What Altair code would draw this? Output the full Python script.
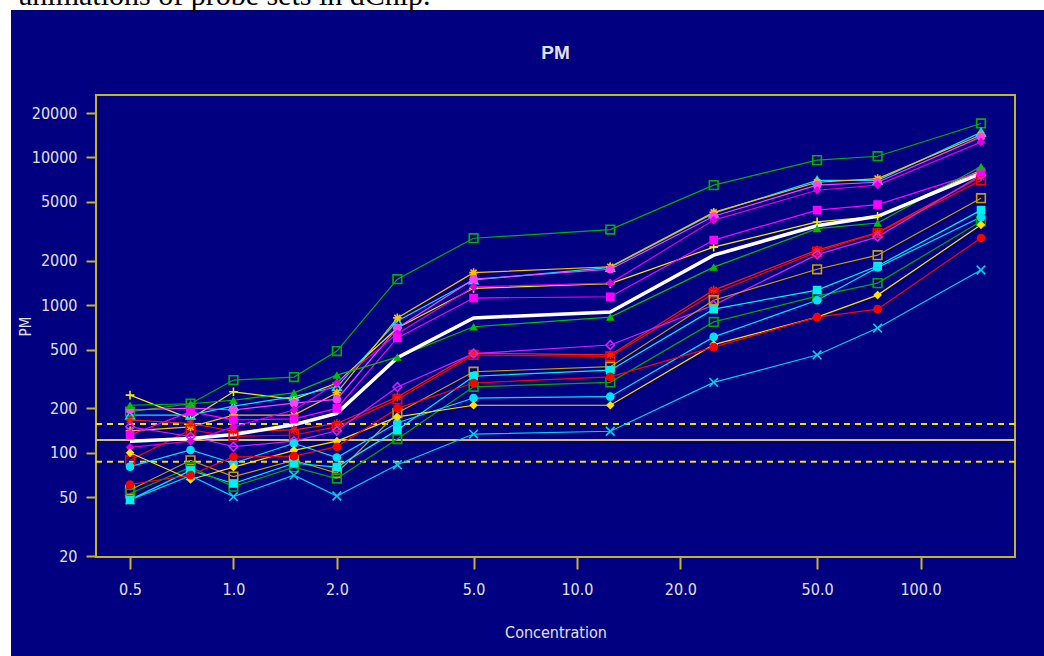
import altair as alt
import pandas as pd

# ---------------- data ----------------
conc = [0.5, 0.75, 1.0, 1.5, 2.0, 3.0, 5.0, 12.5, 25.0, 50.0, 75.0, 150.0]

probe_names = ["p01", "p02", "p03", "p04", "p05", "p06", "p07", "p08", "p09",
               "p10", "p11", "p12", "p13", "p14", "p15", "p16", "p17", "p18"]

p01 = [190, 215, 311, 326, 489, 1500, 2840, 3250, 6500, 9600, 10200, 17000]
p02 = [246, 170, 259, 230, 297, 700, 1300, 1400, 2470, 3660, 4000, 8200]
p03 = [180, 180, 207, 240, 280, 780, 1480, 1800, 4200, 7000, 7000, 14800]
p04 = [141, 150, 180, 180, 255, 820, 1660, 1820, 4250, 6800, 7200, 14200]
p05 = [195, 201, 195, 217, 230, 700, 1500, 1750, 4000, 6500, 6800, 13800]
p06 = [109, 120, 150, 195, 297, 640, 1330, 1410, 3770, 6000, 6500, 12700]
p07 = [132, 190, 167, 170, 200, 600, 1117, 1140, 2760, 4400, 4800, 8000]
p08 = [210, 215, 227, 255, 336, 445, 714, 830, 1810, 3300, 3600, 8700]
p09 = [167, 158, 140, 143, 158, 239, 473, 460, 1265, 2360, 3100, 7400]
p10 = [89, 143, 129, 132, 150, 230, 460, 450, 1200, 2300, 3080, 7000]
p11 = [150, 129, 110, 120, 141, 279, 470, 537, 1000, 2200, 2900, 7600]
p12 = [56, 89, 69, 89, 73, 186, 354, 383, 1080, 1750, 2180, 5300]
p13 = [48, 76, 62, 85, 80, 143, 330, 363, 940, 1265, 1840, 4400]
p14 = [53, 80, 59, 80, 67, 124, 280, 300, 770, 1150, 1410, 3700]
p15 = [80.6, 104.5, 85, 116, 93, 160, 235, 240, 610, 1080, 1800, 3950]
p16 = [100, 66, 80, 104, 120, 175, 210, 210, 540, 830, 1170, 3500]
p17 = [61, 70.6, 94, 95, 110, 200, 297, 327, 520, 830, 940, 2850]
p18 = [48, 70, 50.5, 70.6, 51, 83, 134, 140, 300, 460, 700, 1730]

probe_values = [p01, p02, p03, p04, p05, p06, p07, p08, p09,
                p10, p11, p12, p13, p14, p15, p16, p17, p18]

model_fit = [120, 125, 133, 155, 185, 440, 820, 900, 2180, 3450, 4000, 7800]

PLUS = "M-1,0L1,0M0,-1L0,1"
STAR = "M-1,0L1,0M0,-1L0,1M-0.7,-0.7L0.7,0.7M-0.7,0.7L0.7,-0.7"
XMARK = "M-1,-1L1,1M-1,1L1,-1"

probe_colors = ["#00b000", "#f0f000", "#00e8f8", "#ffc000", "#ff40ff", "#e000e0",
                "#ff00ff", "#00c000", "#ff2000", "#ff0000", "#d020ff", "#c8a000",
                "#00f0f0", "#00a800", "#00e0ff", "#ffe000", "#ff0000", "#00d0e8"]
probe_shapes = ["square", PLUS, "triangle-up", STAR, "circle", "diamond",
                "square", "triangle-up", STAR, "square", "diamond", "square",
                "square", "square", "circle", "diamond", "circle", XMARK]
probe_filled = [False, False, False, False, True, True,
                True, True, False, False, False, False,
                True, False, True, True, True, False]

ref_solid = [122]
ref_dashed = [157, 87]

x_ticks = [0.5, 1, 2, 5, 10, 20, 50, 100]
y_ticks = [20, 50, 100, 200, 500, 1000, 2000, 5000, 10000, 20000]

page_note = "animations of probe sets in dChip."

# ---------------- tables ----------------
rows = []
for name, vals, fil in zip(probe_names, probe_values, probe_filled):
    for c, v in zip(conc, vals):
        rows.append({"probe": name, "conc": c, "value": v, "filled": fil})
df = pd.DataFrame(rows)
df_fit = pd.DataFrame({"conc": conc, "value": model_fit})
df_solid = pd.DataFrame({"value": ref_solid})
df_dashed = pd.DataFrame({"value": ref_dashed})
one = pd.DataFrame({"a": [0]})

W, H = 919, 462
FRAME = "#c4b42c"
TXT = "#e2e2ec"
FONT = "Liberation Sans Narrow, DejaVu Sans Condensed, Liberation Sans"

x_enc = alt.X("conc:Q",
              scale=alt.Scale(type="log", domain=[0.398, 188.4], nice=False),
              axis=alt.Axis(values=x_ticks, format=".1f", domain=False, grid=False,
                            tickColor=FRAME, tickSize=12, tickWidth=2,
                            labelColor=TXT, labelFontSize=16, labelFont=FONT,
                            labelPadding=12, labelFlush=False,
                            title="Concentration", titleColor=TXT, titleFont=FONT,
                            titleFontSize=16, titleFontWeight="normal",
                            titleX=W / 2, titleY=75, titleBaseline="middle",
                            titleAlign="center", titleAnchor="middle"))
y_enc = alt.Y("value:Q",
              scale=alt.Scale(type="log", domain=[19.7, 26500], nice=False),
              axis=alt.Axis(values=y_ticks, format="d", domain=False, grid=False,
                            tickColor=FRAME, tickSize=10, tickWidth=2,
                            labelColor=TXT, labelFontSize=16, labelFont=FONT,
                            labelPadding=9, labelFlush=False,
                            title="PM", titleColor=TXT, titleFont=FONT,
                            titleFontSize=15, titleFontWeight="normal",
                            titleAngle=-90, titleX=-71, titleY=H / 2,
                            titleBaseline="middle", titleAlign="center"))

color_scale = alt.Scale(domain=probe_names, range=probe_colors)
shape_scale = alt.Scale(domain=probe_names, range=probe_shapes)

rule_solid = alt.Chart(df_solid).mark_rule(color="#d0c070", strokeWidth=2).encode(y=y_enc)
rule_dash = alt.Chart(df_dashed).mark_rule(color="#f0e000", strokeWidth=2,
                                           strokeDash=[6, 5]).encode(y=y_enc)

lines = alt.Chart(df).mark_line(strokeWidth=1.2).encode(
    x=x_enc, y=y_enc,
    color=alt.Color("probe:N", scale=color_scale, legend=None),
    detail="probe:N")

fit_line = alt.Chart(df_fit).mark_line(color="white", strokeWidth=3.5).encode(x=x_enc, y=y_enc)

pts_open = alt.Chart(df).transform_filter("!datum.filled").mark_point(
    filled=False, size=75, strokeWidth=1.6, opacity=1).encode(
    x=x_enc, y=y_enc,
    color=alt.Color("probe:N", scale=color_scale, legend=None),
    shape=alt.Shape("probe:N", scale=shape_scale, legend=None))

pts_fill = alt.Chart(df).transform_filter("datum.filled").mark_point(
    filled=True, size=75, opacity=1).encode(
    x=x_enc, y=y_enc,
    color=alt.Color("probe:N", scale=color_scale, legend=None),
    shape=alt.Shape("probe:N", scale=shape_scale, legend=None))

title_txt = alt.Chart(one).mark_text(text="PM", color=TXT, fontSize=19,
                                     fontWeight="bold", font="Liberation Sans",
                                     align="center", baseline="middle").encode(
    x=alt.value(W / 2), y=alt.value(-42))

white_left = alt.Chart(one).mark_rect(color="white").encode(
    x=alt.value(-96), x2=alt.value(-85), y=alt.value(-95), y2=alt.value(561))
white_top = alt.Chart(one).mark_rect(color="white").encode(
    x=alt.value(-96), x2=alt.value(948), y=alt.value(-95), y2=alt.value(-85))
note_txt = alt.Chart(one).mark_text(text=page_note, color="black", fontSize=30,
                                    font="Liberation Serif", align="left",
                                    baseline="alphabetic").encode(
    x=alt.value(-77), y=alt.value(-90))

chart = alt.layer(
    rule_solid, rule_dash, lines, fit_line, pts_open, pts_fill,
    title_txt, white_left, white_top, note_txt
).properties(
    width=W, height=H,
    padding={"left": 96, "top": 95, "right": 29, "bottom": 99},
    autosize=alt.AutoSizeParams(type="none"),
).configure(background="#000080").configure_view(stroke=FRAME, strokeWidth=2)

chart.save("out.html", embed_options={"renderer": "svg", "actions": False})
